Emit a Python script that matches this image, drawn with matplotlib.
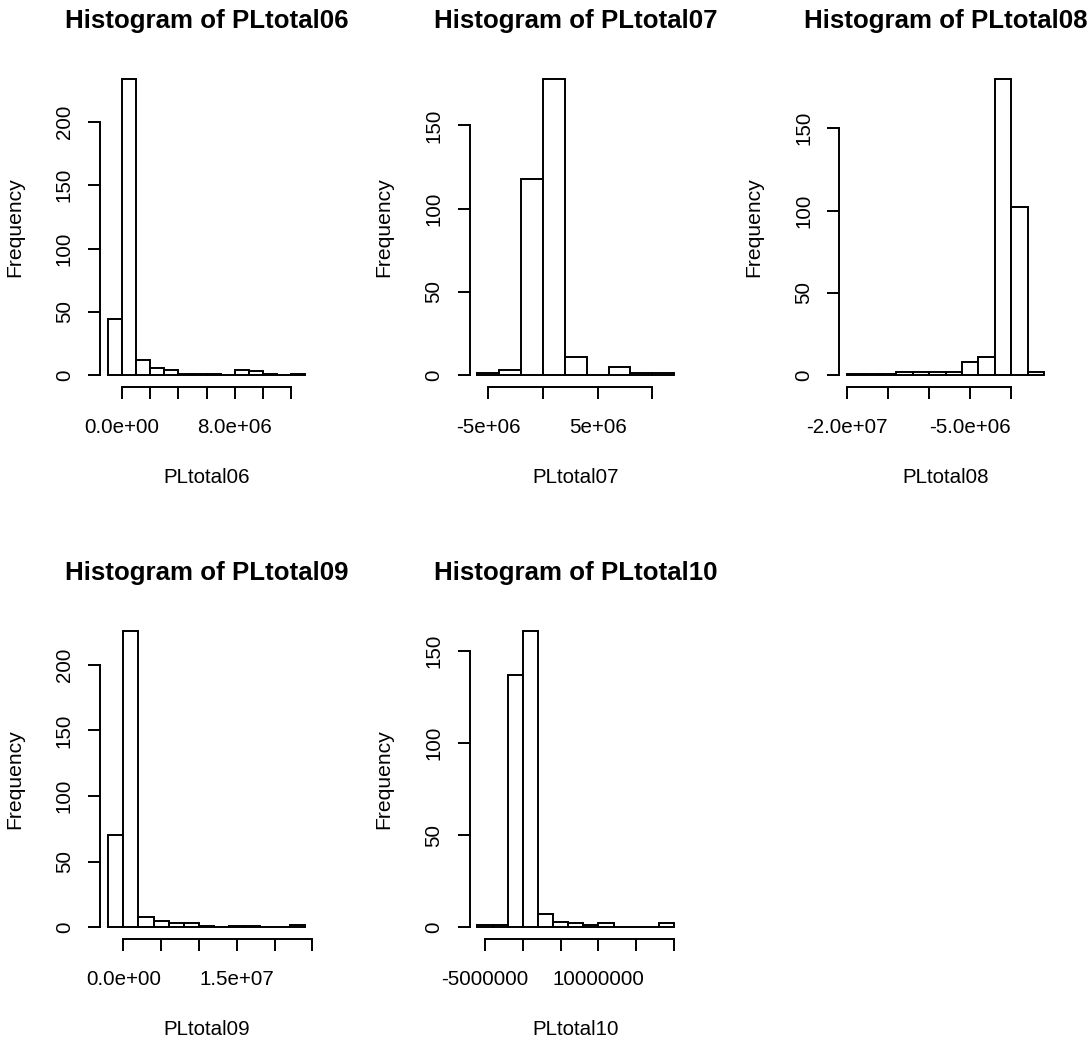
import matplotlib
matplotlib.use('Agg')
import matplotlib.pyplot as plt

plt.rcParams['font.family'] = ['Liberation Sans', 'DejaVu Sans']

# histogram breaks and counts
names = ['PLtotal06', 'PLtotal07', 'PLtotal08', 'PLtotal09', 'PLtotal10']

breaks06 = [-1e6, 0, 1e6, 2e6, 3e6, 4e6, 5e6, 6e6, 7e6, 8e6, 9e6, 10e6, 11e6, 12e6, 13e6]
counts06 = [44, 234, 12, 6, 4, 1, 1, 1, 0, 4, 3, 1, 0, 1]

breaks07 = [-6e6, -4e6, -2e6, 0, 2e6, 4e6, 6e6, 8e6, 10e6, 12e6]
counts07 = [1, 3, 118, 178, 11, 0, 5, 1, 1]

breaks08 = [-20e6, -18e6, -16e6, -14e6, -12e6, -10e6, -8e6, -6e6, -4e6, -2e6, 0, 2e6, 4e6]
counts08 = [1, 1, 1, 2, 2, 2, 2, 8, 11, 180, 102, 2]

breaks09 = [-2e6, 0, 2e6, 4e6, 6e6, 8e6, 10e6, 12e6, 14e6, 16e6, 18e6, 20e6, 22e6, 24e6]
counts09 = [70, 226, 8, 5, 3, 3, 1, 0, 1, 1, 0, 0, 2]

breaks10 = [-6e6, -4e6, -2e6, 0, 2e6, 4e6, 6e6, 8e6, 10e6, 12e6, 14e6, 16e6, 18e6, 20e6]
counts10 = [1, 1, 137, 161, 7, 3, 2, 1, 2, 0, 0, 0, 2]

xticks06 = [0, 2e6, 4e6, 6e6, 8e6, 10e6, 12e6]
xlabs06 = ['0.0e+00', '', '', '', '8.0e+06', '', '']
xticks07 = [-5e6, 0, 5e6, 10e6]
xlabs07 = ['-5e+06', '', '5e+06', '']
xticks08 = [-20e6, -15e6, -10e6, -5e6, 0]
xlabs08 = ['-2.0e+07', '', '', '-5.0e+06', '']
xticks09 = [0, 5e6, 10e6, 15e6, 20e6, 25e6]
xlabs09 = ['0.0e+00', '', '', '1.5e+07', '', '']
xticks10 = [-5e6, 0, 5e6, 10e6, 15e6, 20e6]
xlabs10 = ['-5000000', '', '', '10000000', '', '']

yticks = [[0, 50, 100, 150, 200], [0, 50, 100, 150], [0, 50, 100, 150],
          [0, 50, 100, 150, 200], [0, 50, 100, 150]]

all_breaks = [breaks06, breaks07, breaks08, breaks09, breaks10]
all_counts = [counts06, counts07, counts08, counts09, counts10]
all_xticks = [xticks06, xticks07, xticks08, xticks09, xticks10]
all_xlabs = [xlabs06, xlabs07, xlabs08, xlabs09, xlabs10]

W, H = 1090, 1042
fig = plt.figure(figsize=(W / 100, H / 100), dpi=100)

# plot regions in pixels (left, top)
lefts = [100.3, 469.5, 839.4, 100.3, 469.5]
tops = [67, 67, 67, 619, 619]
pw, ph = 212.5, 320

lw = 1.4
for i in range(5):
    ax = fig.add_axes([lefts[i] / W, 1 - (tops[i] + ph) / H, pw / W, ph / H])
    br = all_breaks[i]
    cn = all_counts[i]
    widths = [br[k + 1] - br[k] for k in range(len(cn))]
    ax.bar(br[:-1], cn, width=widths, align='edge', facecolor='white',
           edgecolor='black', linewidth=lw)

    span = br[-1] - br[0]
    ax.set_xlim(br[0] - 0.04 * span, br[-1] + 0.04 * span)
    top = max(cn)
    ax.set_ylim(-0.04 * top, top * 1.04)

    ax.tick_params(axis='x', length=8.5, width=lw, pad=14, labelsize=14.8)
    ax.tick_params(axis='y', length=8.5, width=lw, pad=10.5, labelsize=14.8,
                   labelrotation=90)

    ax.set_xticks(all_xticks[i])
    ax.set_xticklabels(all_xlabs[i])
    ax.set_yticks(yticks[i])
    ax.set_yticklabels([str(v) for v in yticks[i]])
    for t in ax.get_yticklabels():
        t.set_rotation(90)
        t.set_va('center')

    for s in ['top', 'right']:
        ax.spines[s].set_visible(False)
    ax.spines['left'].set_bounds(yticks[i][0], yticks[i][-1])
    ax.spines['bottom'].set_bounds(all_xticks[i][0], all_xticks[i][-1])
    for s in ['left', 'bottom']:
        ax.spines[s].set_linewidth(lw)

    ax.set_title('Histogram of ' + names[i], fontsize=18.6, fontweight='bold', pad=28)
    ax.set_xlabel(names[i], fontsize=14.8, labelpad=22)
    ax.set_ylabel('Frequency', fontsize=15.2, labelpad=22)

fig.savefig('out.png', dpi=100, facecolor='white')
